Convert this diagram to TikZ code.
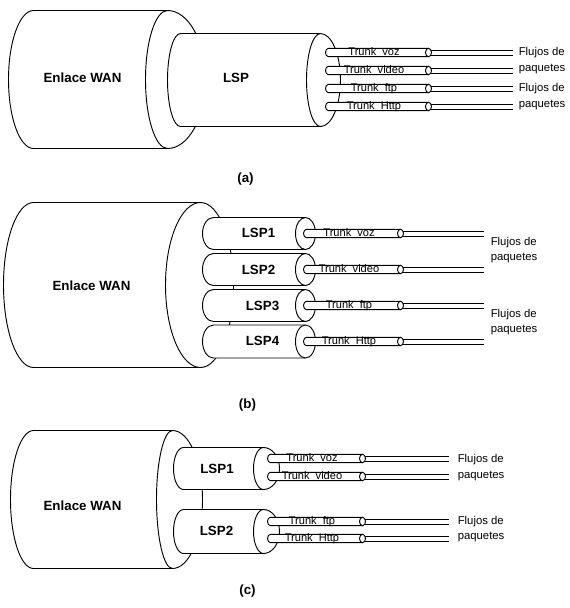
\documentclass[tikz,border=0pt]{standalone}
\usepackage{fontspec}
\setmainfont{Liberation Sans}
% cylinder: back x, front x, centre y, back x radius, y radius, outer front x radius, inner front x radius
\newcommand{\cylshape}[7]{%
  \draw[cyl] (#1,{#3-#5}) -- (#2,{#3-#5})
    arc[start angle=-90,end angle=90,x radius=#6,y radius=#5]
    -- (#1,{#3+#5})
    arc[start angle=90,end angle=270,x radius=#4,y radius=#5] -- cycle;
  \draw[ln] (#2,{#3-#5}) arc[start angle=-90,end angle=-270,x radius=#7,y radius=#5];
}
% trunk: left x, right-cap x, line end x, centre y, word, node name
\newcommand{\trunkshape}[6]{%
  \draw[cyl] ({#1+3},{#4-4.2}) -- (#2,{#4-4.2}) -- (#2,{#4+4.2}) -- ({#1+3},{#4+4.2})
    arc[start angle=90,end angle=270,x radius=3,y radius=4.2] -- cycle;
  \draw[cyl] (#2,#4) ellipse[x radius=3,y radius=4.2];
  \draw[ln] ({#2+2.4},{#4-2.5}) -- (#3,{#4-2.5});
  \draw[ln] ({#2+2.4},{#4+2.5}) -- (#3,{#4+2.5});
  \node[trunktxt] (#6) at ({(#1+#2)/2-3},{#4+3.4}) {Trunk\hspace{0.55em}#5};
}
\begin{document}
\begin{tikzpicture}[x=0.75pt,y=-0.75pt,
  cyl/.style={draw=black,line width=0.7pt,fill=white},
  ln/.style={draw=black,line width=0.7pt},
  boldlbl/.style={font=\fontsize{10}{12}\selectfont\bfseries,inner sep=0pt},
  trunktxt/.style={font=\fontsize{8.3}{10}\selectfont,inner sep=0pt,anchor=base},
  flow/.style={font=\fontsize{8.5}{10}\selectfont,inner sep=0pt,anchor=west}]
\useasboundingbox (0,0) rectangle (569,608);
\begin{scope}[shift={(0.5,0.5)}]
% ---------------- (a) ----------------
\cylshape{33}{167}{79}{25}{69}{38}{22}
\cylshape{180}{320}{79.5}{13}{46.5}{20}{14}
\node[boldlbl] (wanA) at (82,77) {Enlace WAN};
\node[boldlbl] (lspA) at (235.5,77) {LSP};
\trunkshape{325}{428}{512}{52}{voz}{tA1}
\trunkshape{325}{428}{512}{70}{video}{tA2}
\trunkshape{325}{428}{512}{88}{ftp}{tA3}
\trunkshape{325}{428}{512}{106}{Http}{tA4}
\node[flow] (fA1) at (518,52) {Flujos de};
\node[flow] (fA2) at (518,69) {paquetes};
\node[flow] (fA3) at (518,88) {Flujos de};
\node[flow] (fA4) at (518,105) {paquetes};
\node[boldlbl] (capA) at (245,179) {(a)};

% ---------------- (b) ----------------
\cylshape{33}{200}{284.5}{30}{82.5}{33}{35}
\cylshape{213}{305}{233}{11}{16}{10}{10}
\cylshape{213}{305}{269}{11}{16}{10}{10}
\cylshape{213}{305}{305}{11}{16}{10}{10}
\cylshape{213}{305}{341}{11}{16.5}{10}{10}
\node[boldlbl] (wanB) at (91,285) {Enlace WAN};
\node[boldlbl] (lspB1) at (258,232) {LSP1};
\node[boldlbl] (lspB2) at (258,269) {LSP2};
\node[boldlbl] (lspB3) at (262,305) {LSP3};
\node[boldlbl] (lspB4) at (262,340) {LSP4};
\trunkshape{303}{400}{483}{233}{voz}{tB1}
\trunkshape{303}{400}{483}{269}{video}{tB2}
\trunkshape{303}{400}{483}{305}{ftp}{tB3}
\trunkshape{303}{400}{483}{341}{Http}{tB4}
\node[flow] (fB1) at (490,242) {Flujos de};
\node[flow] (fB2) at (490,258) {paquetes};
\node[flow] (fB3) at (490,314) {Flujos de};
\node[flow] (fB4) at (490,330) {paquetes};
\node[boldlbl] (capB) at (247,405) {(b)};

% ---------------- (c) ----------------
\cylshape{33}{172}{499}{23}{69}{30}{16}
\cylshape{183}{263}{468}{10}{21}{16}{10}
\cylshape{183}{263}{531}{10}{22}{16}{10}
\node[boldlbl] (wanC) at (82,505) {Enlace WAN};
\node[boldlbl] (lspC1) at (216.5,468) {LSP1};
\node[boldlbl] (lspC2) at (216,530) {LSP2};
\trunkshape{267}{362}{448}{458}{voz}{tC1}
\trunkshape{267}{362}{448}{476}{video}{tC2}
\trunkshape{267}{362}{448}{521}{ftp}{tC3}
\trunkshape{267}{362}{448}{538}{Http}{tC4}
\node[flow] (fC1) at (457,459) {Flujos de};
\node[flow] (fC2) at (457,476) {paquetes};
\node[flow] (fC3) at (457,521) {Flujos de};
\node[flow] (fC4) at (457,537) {paquetes};
\node[boldlbl] (capC) at (247,591) {(c)};
\end{scope}
\end{tikzpicture}
\end{document}
